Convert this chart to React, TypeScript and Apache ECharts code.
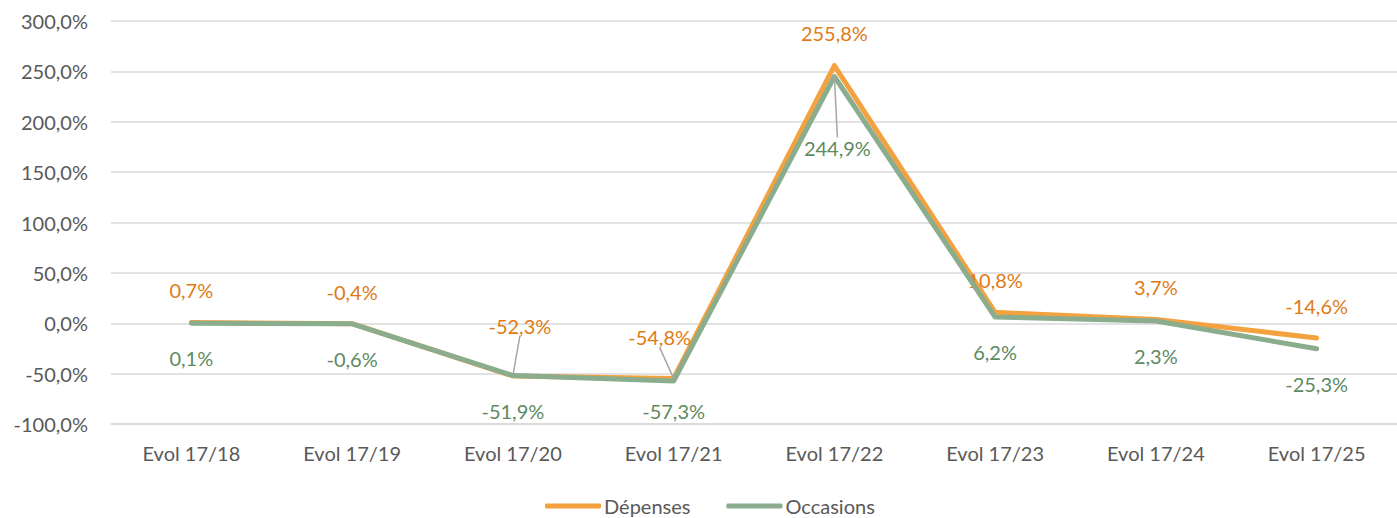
import React, { useEffect, useRef } from "react";
import * as echarts from "echarts";

const categories = ["Evol 17/18", "Evol 17/19", "Evol 17/20", "Evol 17/21", "Evol 17/22", "Evol 17/23", "Evol 17/24", "Evol 17/25"];
const depenses = [0.7, -0.4, -52.3, -54.8, 255.8, 10.8, 3.7, -14.6];
const occasions = [0.1, -0.6, -51.9, -57.3, 244.9, 6.2, 2.3, -25.3];
const yTicks = { min: -100, max: 300, interval: 50 };

const FONT = "Lato, 'Open Sans', sans-serif";
const FS = 20;
const fmt = (v: number) => v.toFixed(1).replace(".", ",") + "%";

// label nudges (offsets from default position) for crowded points
const depShift: Record<number, [number, number]> = { 2: [7, -18], 3: [-14, -9] };
const occShift: Record<number, [number, number]> = { 3: [0, -5], 4: [3, 36] };
const depLines = [2, 3];
const occLines = [4];

export default function App() {
  const ref = useRef<HTMLDivElement>(null);
  useEffect(() => {
    document.body.style.margin = "0";
    const chart = echarts.init(ref.current!, null, { renderer: "svg" });
    chart.setOption({
      animation: false,
      backgroundColor: "#ffffff",
      grid: { left: 111, right: 0, top: 21, bottom: 94 },
      legend: {
        bottom: -3,
        left: 540,
        itemWidth: 56,
        itemHeight: 5,
        itemGap: 36,
        icon: "roundRect",
        textStyle: { fontFamily: FONT, fontSize: FS, color: "#595959", padding: [0, 0, 0, -2] },
        data: ["Dépenses", "Occasions"],
      },
      xAxis: {
        type: "category",
        data: categories,
        boundaryGap: true,
        axisLine: { show: true, onZero: false, lineStyle: { color: "#d9d9d9", width: 1.5 } },
        axisTick: { show: false },
        axisLabel: { fontFamily: FONT, fontSize: FS, color: "#595959", margin: 19 },
      },
      yAxis: {
        type: "value",
        min: yTicks.min,
        max: yTicks.max,
        interval: yTicks.interval,
        axisLine: { show: false },
        axisTick: { show: false },
        axisLabel: { fontFamily: FONT, fontSize: FS, color: "#595959", margin: 23, formatter: (v: number) => fmt(v) },
        splitLine: { lineStyle: { color: "#d9d9d9", width: 1.5 } },
      },
      series: [
        {
          name: "Dépenses",
          type: "line",
          data: depenses.map((v, i) => ({
            value: v,
            labelLine: { show: depLines.includes(i), lineStyle: { color: "#a6a6a6", width: 1.5 } },
          })),
          color: "#F4A140",
          lineStyle: { width: 5, color: "#F4A140", cap: "round", join: "round" },
          symbol: "circle",
          symbolSize: 0.1,
          showSymbol: true,
          label: {
            show: true,
            position: "top",
            distance: 22,
            fontFamily: FONT,
            fontSize: FS,
            color: "#E07B14",
            formatter: (p: any) => fmt(p.value),
          },
          labelLayout: (p: any) => {
            const s = depShift[p.dataIndex];
            return s ? { dx: s[0], dy: s[1] } : {};
          },
          z: 2,
        },
        {
          name: "Occasions",
          type: "line",
          data: occasions.map((v, i) => ({
            value: v,
            labelLine: { show: occLines.includes(i), lineStyle: { color: "#a6a6a6", width: 1.5 } },
          })),
          color: "#8AAD8D",
          lineStyle: { width: 5, color: "#8AAD8D", cap: "round", join: "round" },
          symbol: "circle",
          symbolSize: 0.1,
          showSymbol: true,
          label: {
            show: true,
            position: "bottom",
            distance: 25,
            fontFamily: FONT,
            fontSize: FS,
            color: "#5E8A62",
            formatter: (p: any) => fmt(p.value),
          },
          labelLayout: (p: any) => {
            const s = occShift[p.dataIndex];
            return s ? { dx: s[0], dy: s[1] } : {};
          },
          z: 3,
        },
      ],
    });
    return () => chart.dispose();
  }, []);
  return <div ref={ref} style={{ width: 1397, height: 518 }} />;
}
